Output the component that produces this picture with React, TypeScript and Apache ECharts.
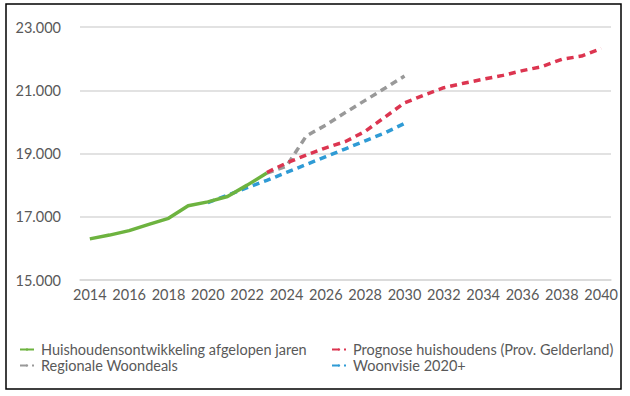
import React, { useEffect, useRef } from "react";
import * as echarts from "echarts";

const years: string[] = [];
for (let y = 2014; y <= 2040; y++) years.push(String(y));

// values per year 2014..2040 (null = no data)
const historisch = [16300, 16420, 16560, 16760, 16950, 17350, 17470, 17640, 18000, 18380];
const prognose = [18400, 18700, 18950, 19180, 19380, 19700, 20150, 20600, 20850, 21080, 21220, 21350, 21470, 21620, 21750, 21980, 22080, 22320];
const woondeals = [18380, 18600, 19550, 19900, 20300, 20680, 21060, 21450];
const woonvisie = [17450, 17680, 17920, 18150, 18400, 18650, 18900, 19150, 19400, 19650, 19950];

const yMin = 15000;
const yMax = 23000;
const yInterval = 2000;

function place(startYear: number, vals: number[]): (number | null)[] {
  return years.map((y) => {
    const i = Number(y) - startYear;
    return i >= 0 && i < vals.length ? vals[i] : null;
  });
}

function fmt(v: number): string {
  const s = String(Math.round(v));
  return s.replace(/\B(?=(\d{3})+(?!\d))/g, ".");
}

const FONT = "Lato";
const TXT = "#595959";

export default function App() {
  const ref = useRef<HTMLDivElement>(null);
  useEffect(() => {
    if (!ref.current) return;
    const chart = echarts.init(ref.current, undefined, { renderer: "svg" });
    const dash = [7, 5];
    const legendText = { color: TXT, fontSize: 14.5, fontFamily: FONT, lineHeight: 15, padding: [0, 0, 0, 2] };
    chart.setOption({
      animation: false,
      backgroundColor: "#ffffff",
      textStyle: { fontFamily: FONT },
      grid: { left: 80, right: 19, top: 27, bottom: 116 },
      xAxis: {
        type: "category",
        data: years,
        boundaryGap: true,
        axisLine: { show: true, lineStyle: { color: "#d9d9d9", width: 1.5 } },
        axisTick: { show: false },
        axisLabel: { interval: 1, color: TXT, fontSize: 14.5, fontFamily: FONT, margin: 7 },
      },
      yAxis: {
        type: "value",
        min: yMin,
        max: yMax,
        interval: yInterval,
        axisLine: { show: false },
        axisTick: { show: false },
        splitLine: { lineStyle: { color: "#d9d9d9", width: 1.5 } },
        axisLabel: { color: TXT, fontSize: 14.5, fontFamily: FONT, margin: 19, formatter: (v: number) => fmt(v) },
      },
      legend: [
        {
          orient: "vertical",
          left: 14,
          top: 337,
          itemWidth: 14,
          itemHeight: 3,
          itemGap: 1,
          textStyle: legendText,
          data: ["Huishoudensontwikkeling afgelopen jaren", "Regionale Woondeals"],
        },
        {
          orient: "vertical",
          left: 326,
          top: 337,
          itemWidth: 14,
          itemHeight: 3,
          itemGap: 1,
          textStyle: legendText,
          data: ["Prognose huishoudens (Prov. Gelderland)", "Woonvisie 2020+"],
        },
      ],
      graphic: [
        {
          type: "rect",
          shape: { x: 6, y: 4, width: 615, height: 385 },
          style: { fill: "none", stroke: "#000000", lineWidth: 1.5 },
          silent: true,
        },
      ],
      series: [
        {
          name: "Woonvisie 2020+",
          type: "line",
          data: place(2020, woonvisie),
          symbol: "none",
          lineStyle: { color: "#2f9bd5", width: 3.5, type: dash },
          itemStyle: { color: "#2f9bd5" },
          z: 2,
        },
        {
          name: "Regionale Woondeals",
          type: "line",
          data: place(2023, woondeals),
          symbol: "none",
          lineStyle: { color: "#999999", width: 3.5, type: dash },
          itemStyle: { color: "#999999" },
          z: 2,
        },
        {
          name: "Prognose huishoudens (Prov. Gelderland)",
          type: "line",
          data: place(2023, prognose),
          symbol: "none",
          lineStyle: { color: "#dc3550", width: 3.5, type: dash },
          itemStyle: { color: "#dc3550" },
          z: 3,
        },
        {
          name: "Huishoudensontwikkeling afgelopen jaren",
          type: "line",
          data: place(2014, historisch),
          symbol: "none",
          lineStyle: { color: "#6db33f", width: 3.5 },
          itemStyle: { color: "#6db33f" },
          z: 4,
        },
      ],
    });
    return () => chart.dispose();
  }, []);
  return (
    <div
      ref={ref}
      style={{ position: "fixed", left: 0, top: 0, width: 630, height: 396, background: "#fff" }}
    />
  );
}
